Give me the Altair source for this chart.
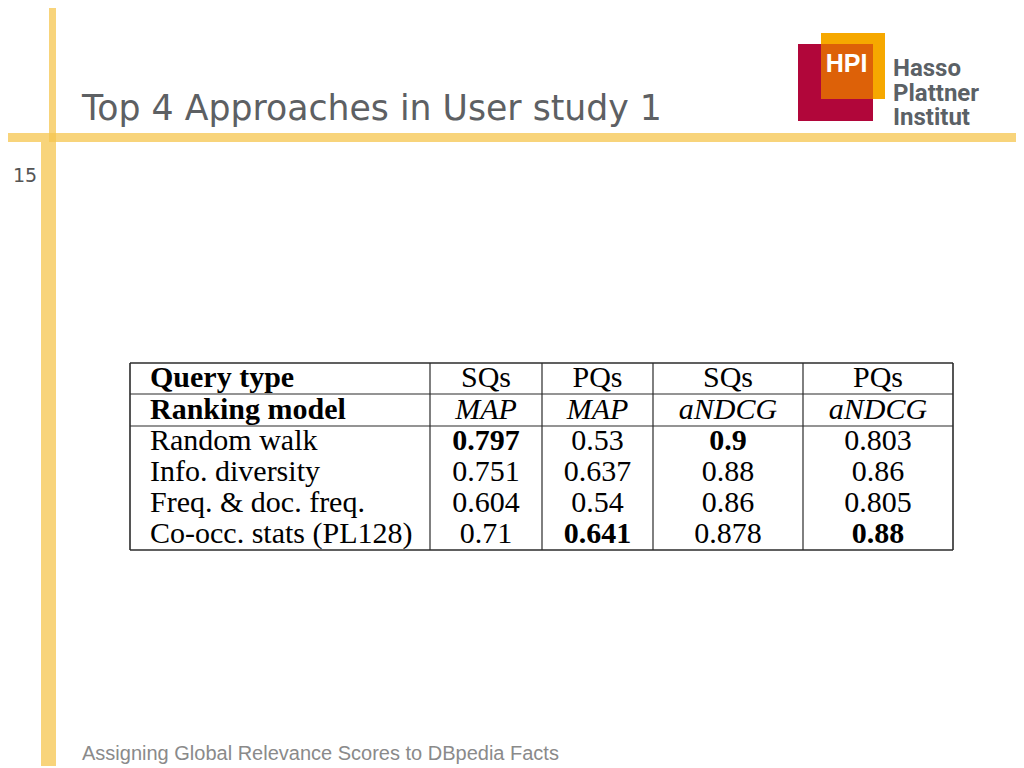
import altair as alt
import pandas as pd

# ---------------- data ----------------
title = "Top 4 Approaches in User study 1"
footer = "Assigning Global Relevance Scores to DBpedia Facts"
page_number = "15"
logo_mark = "HPI"
logo_lines = ["Hasso", "Plattner", "Institut"]

header_labels = ["Query type", "Ranking model"]
query_types = ["SQs", "PQs", "SQs", "PQs"]
metrics = ["MAP", "MAP", "aNDCG", "aNDCG"]
methods = ["Random walk", "Info. diversity", "Freq. & doc. freq.", "Co-occ. stats (PL128)"]
sq_map = [0.797, 0.751, 0.604, 0.71]
pq_map = [0.53, 0.637, 0.54, 0.641]
sq_andcg = [0.9, 0.88, 0.86, 0.878]
pq_andcg = [0.803, 0.86, 0.805, 0.88]
value_columns = [sq_map, pq_map, sq_andcg, pq_andcg]

# ---------------- layout (screen pixels) ----------------
M = 8  # page margin
W, H = 1008, 758
col_edges = [130, 430, 542, 653, 803, 953]
row_edges = [363, 394, 426, 550]
row_baselines = [386.5, 418.5, 450, 481, 512, 543]
label_x = 150
col_centers = [(col_edges[i] + col_edges[i + 1]) / 2 for i in range(1, 5)]

def p(v):
    return v - M

ONE = alt.Data(values=[{"k": 0}])

# ---------------- table data frames ----------------
label_rows = []
for ri, lab in enumerate(header_labels + methods):
    label_rows.append({"ri": ri, "text": lab, "style": "bold" if ri < 2 else "normal"})
labels_df = pd.DataFrame(label_rows)

cells = []
for ci in range(4):
    cells.append({"ri": 0, "ci": ci, "text": query_types[ci], "style": "normal"})
    cells.append({"ri": 1, "ci": ci, "text": metrics[ci], "style": "italic"})
    col = value_columns[ci]
    best = max(col)
    for k, v in enumerate(col):
        cells.append({"ri": k + 2, "ci": ci, "text": str(v),
                      "style": "bold" if v == best else "normal"})
cells_df = pd.DataFrame(cells)

Y = alt.Y("ri:Q", axis=None,
          scale=alt.Scale(domain=list(range(6)), range=[p(b) for b in row_baselines]))
X = alt.X("ci:Q", axis=None,
          scale=alt.Scale(domain=[0, 1, 2, 3], range=[p(c) for c in col_centers]))

SERIF = "Liberation Serif"
TS = 30

layers = []

# ---------------- slide decoration ----------------
yellow = "#F5C64F"
def rect(x1, x2, y1, y2, color, opacity=1.0):
    return alt.Chart(ONE).mark_rect(color=color, opacity=opacity).encode(
        x=alt.value(max(p(x1), 0)), x2=alt.value(min(p(x2), W)),
        y=alt.value(max(p(y1), 0)), y2=alt.value(min(p(y2), H)))

layers.append(rect(0, 1024, 133, 142, yellow, 0.75))
layers.append(rect(49, 56, 0, 142, yellow, 0.75))
layers.append(rect(41, 56, 142, 768, yellow, 0.75))

# logo
layers.append(rect(798, 873, 44, 121, "#B1063A"))
layers.append(rect(821, 885, 33, 99, "#F6A800"))
layers.append(rect(821, 873, 44, 99, "#DD6108"))
layers.append(alt.Chart(alt.Data(values=[{"t": logo_mark}])).mark_text(
    font="Liberation Sans", fontWeight="bold", fontSize=25, color="white",
    align="center", baseline="alphabetic").encode(
    x=alt.value(p(846.5)), y=alt.value(p(72)), text="t:N"))
for line, base in zip(logo_lines, [76, 100.5, 125]):
    layers.append(alt.Chart(alt.Data(values=[{"t": line}])).mark_text(
        font="Roboto", fontWeight="bold",
        fontSize=24, color="#5B6166", align="left", baseline="alphabetic").encode(
        x=alt.value(p(893)), y=alt.value(p(base)), text="t:N"))

# title, page number, footer
layers.append(alt.Chart(alt.Data(values=[{"t": title}])).mark_text(
    font="DejaVu Sans", fontSize=34.7, color="#5D6063", align="left",
    baseline="alphabetic").encode(x=alt.value(p(82)), y=alt.value(p(120)), text="t:N"))
layers.append(alt.Chart(alt.Data(values=[{"t": page_number}])).mark_text(
    font="DejaVu Sans", fontSize=19, color="#555555", align="left",
    baseline="alphabetic").encode(x=alt.value(p(13)), y=alt.value(p(182)), text="t:N"))
layers.append(alt.Chart(alt.Data(values=[{"t": footer}])).mark_text(
    font="Liberation Sans", fontSize=20, color="#8A8A8A", align="left",
    baseline="alphabetic").encode(x=alt.value(p(82)), y=alt.value(p(760)), text="t:N"))

# ---------------- table grid ----------------
grid = "#2B2B2B"
for i, e in enumerate(row_edges):
    sw = 1.6 if i in (0, len(row_edges) - 1) else 1.2
    layers.append(alt.Chart(ONE).mark_rule(color=grid, strokeWidth=sw).encode(
        x=alt.value(p(col_edges[0])), x2=alt.value(p(col_edges[-1])), y=alt.value(p(e))))
for i, e in enumerate(col_edges):
    sw = 1.6 if i in (0, len(col_edges) - 1) else 1.2
    layers.append(alt.Chart(ONE).mark_rule(color=grid, strokeWidth=sw).encode(
        x=alt.value(p(e)), y=alt.value(p(row_edges[0])), y2=alt.value(p(row_edges[-1]))))

# ---------------- table text ----------------
for style in ["normal", "bold"]:
    sub = labels_df[labels_df["style"] == style]
    layers.append(alt.Chart(sub).mark_text(
        font=SERIF, fontSize=TS, fontWeight=style if style == "bold" else "normal",
        color="black", align="left", baseline="alphabetic").encode(
        x=alt.value(p(label_x)), y=Y, text="text:N"))

for style in ["normal", "bold", "italic"]:
    sub = cells_df[cells_df["style"] == style]
    kw = dict(font=SERIF, fontSize=TS, color="black", align="center", baseline="alphabetic")
    if style == "bold":
        kw["fontWeight"] = "bold"
    if style == "italic":
        kw["fontStyle"] = "italic"
    layers.append(alt.Chart(sub).mark_text(**kw).encode(x=X, y=Y, text="text:N"))

chart = alt.layer(*layers).properties(
    width=W, height=H, padding=0,
    autosize=alt.AutoSizeParams(type="none"),
    background="white",
).configure_view(stroke=None)

chart.save("out.html", embed_options={"renderer": "svg", "actions": False})
